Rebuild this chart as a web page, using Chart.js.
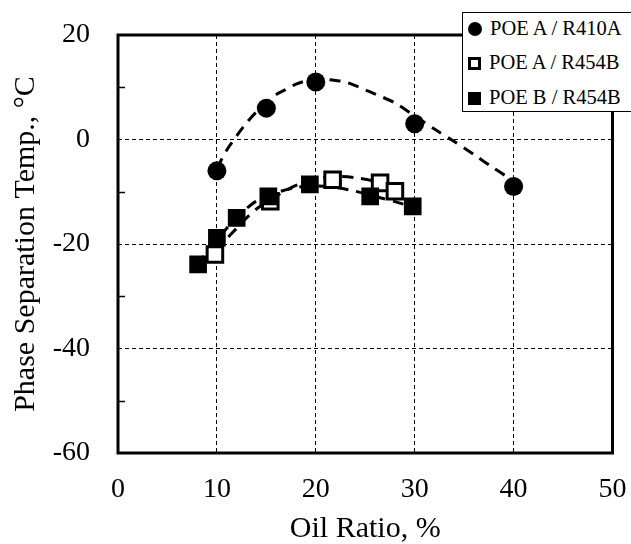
<!DOCTYPE html>
<html>
<head>
<meta charset="utf-8">
<script src="https://cdn.jsdelivr.net/npm/chart.js@4"></script>
<style>
  html, body { margin: 0; padding: 0; background: #fff; overflow: hidden; }
  #wrap { position: relative; width: 631px; height: 544px; overflow: hidden; }
  #legend {
    position: absolute; left: 462px; top: 12px; width: 180px; height: 98px;
    border: 1.5px solid #000; background: #fff;
    font-family: "Liberation Serif", "Times New Roman", serif; font-size: 20.5px; color: #000;
  }
  .row { position: absolute; left: 5px; height: 22px; line-height: 22px; white-space: nowrap; }
  .mk { display: inline-block; vertical-align: -1px; margin-right: 8px; box-sizing: border-box; }
  .circ { width: 14px; height: 14px; border-radius: 50%; background: #000; }
  .osq { width: 13px; height: 13px; border: 3px solid #000; background: #fff; }
  .fsq { width: 13px; height: 13px; background: #000; }
</style>
</head>
<body>
<div id="wrap">
  <canvas id="c" width="631" height="544"></canvas>
  <div id="legend">
    <div class="row" style="top:3.5px"><span class="mk circ"></span>POE A / R410A</div>
    <div class="row" style="top:37.5px"><span class="mk osq"></span>POE A / R454B</div>
    <div class="row" style="top:72.5px"><span class="mk fsq"></span>POE B / R454B</div>
  </div>
</div>
<script>
// measured points
const r410aX = [10, 15, 20, 30, 40];
const r410aY = [-6, 6, 11, 3, -9];

const poeA454X = [9.8, 15.4, 21.7, 26.5, 28];
const poeA454Y = [-22, -11.8, -7.7, -8.3, -9.9];

const poeB454X = [8.1, 10, 12, 15.2, 19.4, 25.5, 29.8];
const poeB454Y = [-23.9, -18.8, -15, -10.9, -8.6, -10.9, -12.8];

// trend curves
const fit410X = [10, 11, 12, 13, 14, 15, 16, 17, 18, 19, 20, 21, 22, 23, 24, 25, 26, 28, 30, 32, 34, 36, 38, 40];
const fit410Y = [-5.5, -2, 0.7, 3.2, 5.3, 7, 8.6, 9.6, 10.6, 11.2, 11.5, 11.5, 11.3, 11, 10.3, 9.5, 8.7, 7, 4.5, 2, -0.4, -2.9, -5.5, -7.9];

const fitA454X = [10, 11, 12, 13, 14, 15, 16, 18, 20, 22, 24, 26, 28];
const fitA454Y = [-21.5, -19, -17, -15, -13.3, -12, -10.8, -8.8, -7.6, -7.1, -7.3, -8, -9.2];

const fitB454X = [8, 9, 10, 11, 12, 13, 14, 16, 18, 20, 22, 24, 26, 28, 30];
const fitB454Y = [-24, -21.5, -19.3, -17, -15, -13.2, -11.8, -10.2, -9.2, -8.9, -9.2, -9.9, -10.9, -11.9, -13];

const xTicks = [0, 10, 20, 30, 40, 50];
const yTicks = [-60, -40, -20, 0, 20];
const yMinor = [-50, -30, -10, 10];

const pts = (xs, ys) => xs.map((x, i) => ({ x: x, y: ys[i] }));
const FONT = "'Liberation Serif', 'Times New Roman', serif";

const fitStyle = {
  showLine: true, pointRadius: 0, borderColor: '#000', borderWidth: 3,
  borderDash: [11, 8], tension: 0.3, fill: false
};

// plot frame + minor ticks
const framePlugin = {
  id: 'frame',
  afterDatasetsDraw(chart) {
    const { ctx, chartArea: a, scales } = chart;
    ctx.save();
    ctx.strokeStyle = '#000';
    ctx.lineWidth = 1.5;
    yMinor.forEach(v => {
      const y = Math.round(scales.y.getPixelForValue(v)) + 0.5;
      ctx.beginPath();
      ctx.moveTo(a.left, y);
      ctx.lineTo(a.left + 7, y);
      ctx.stroke();
    });
    ctx.lineWidth = 3;
    ctx.strokeRect(a.left, a.top, a.right - a.left, a.bottom - a.top);
    ctx.restore();
  }
};

new Chart(document.getElementById('c'), {
  type: 'scatter',
  data: {
    datasets: [
      { label: 'POE A / R410A', data: pts(r410aX, r410aY), pointStyle: 'circle', pointRadius: 9.5,
        backgroundColor: '#000', borderColor: '#000', borderWidth: 0, order: 3 },
      { label: 'POE A / R454B', data: pts(poeA454X, poeA454Y), pointStyle: 'rect', pointRadius: 11,
        backgroundColor: '#fff', borderColor: '#000', borderWidth: 3, order: 2 },
      { label: 'POE B / R454B', data: pts(poeB454X, poeB454Y), pointStyle: 'rect', pointRadius: 12.5,
        backgroundColor: '#000', borderColor: '#000', borderWidth: 0, order: 1 },
      Object.assign({ label: 'fit1', data: pts(fit410X, fit410Y), order: 6 }, fitStyle),
      Object.assign({ label: 'fit2', data: pts(fitA454X, fitA454Y), order: 5 }, fitStyle),
      Object.assign({ label: 'fit3', data: pts(fitB454X, fitB454Y), order: 4 }, fitStyle)
    ]
  },
  options: {
    responsive: false,
    animation: false,
    layout: { padding: { top: 35, right: 18.5, left: 0, bottom: 0 } },
    plugins: { legend: { display: false }, tooltip: { enabled: false } },
    scales: {
      x: {
        type: 'linear', min: 0, max: 50,
        afterBuildTicks: s => { s.ticks = xTicks.map(v => ({ value: v })); },
        afterFit: s => { s.height = 91; s.paddingLeft = 0; s.paddingRight = 0; },
        ticks: { color: '#000', padding: 20, font: { family: FONT, size: 28 } },
        grid: { color: '#000', lineWidth: 1, drawTicks: false },
        border: { display: false, dash: [4, 3] },
        title: { display: true, text: 'Oil Ratio, %', color: '#000', padding: 0,
                 font: { family: FONT, size: 30, lineHeight: 1 } }
      },
      y: {
        type: 'linear', min: -60, max: 20,
        afterBuildTicks: s => { s.ticks = yTicks.map(v => ({ value: v })); },
        afterFit: s => { s.width = 118; s.paddingTop = 0; s.paddingBottom = 0; },
        ticks: { color: '#000', padding: 28, font: { family: FONT, size: 28 } },
        grid: { color: '#000', lineWidth: 1, drawTicks: false },
        border: { display: false, dash: [4, 3] },
        title: { display: true, text: 'Phase Separation Temp., °C', color: '#000', padding: { top: 11, bottom: 0 },
                 font: { family: FONT, size: 30, lineHeight: 1 } }
      }
    }
  },
  plugins: [framePlugin]
});
</script>
</body>
</html>
